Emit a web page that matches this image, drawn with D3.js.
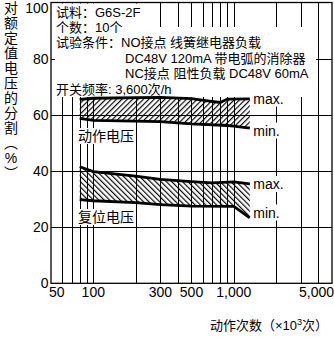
<!DOCTYPE html>
<html><head><meta charset="utf-8">
<script src="https://cdn.jsdelivr.net/npm/d3@7/dist/d3.min.js"></script>
<style>html,body{margin:0;padding:0;background:#fff;} svg{display:block;}</style>
</head><body>
<svg id="c" width="334" height="338"></svg>
<script>
// ---------- data ----------
const xTickValues = [50, 100, 300, 500, 1000, 5000];
const xTickLabels = ["50", "100", "300", "500", "1,000", "5,000"];
const xGridValues = [60, 70, 80, 90, 100, 200, 300, 400, 500, 600, 700, 800, 900, 1000, 2000, 3000, 4000];
const yTickValues = [0, 20, 40, 60, 80, 100];
const yGridValues = [20, 40, 60, 80];

// operating voltage (动作电压)
const opMaxCounts = [80, 100, 300, 500, 650, 800, 900, 1300];
const opMaxValues = [65.5, 65.9, 66.2, 65.8, 65.0, 64.4, 65.6, 65.7];
const opMinCounts = [80, 100, 300, 500, 900, 1000, 1300];
const opMinValues = [58.7, 58.0, 57.6, 56.8, 56.2, 56.0, 55.3];

// reset voltage (复位电压)
const rsMaxCounts = [80, 100, 200, 300, 500, 700, 1000, 1300];
const rsMaxValues = [41.5, 39.8, 38.2, 37.0, 36.2, 35.8, 36.1, 35.4];
const rsMinCounts = [80, 100, 200, 300, 500, 1000, 1300];
const rsMinValues = [29.8, 29.4, 28.7, 28.0, 27.5, 27.4, 23.3];

const noteLines = [
  "试料：G6S-2F",
  "个数：10个",
  "试验条件：NO接点 线簧继电器负载",
  "DC48V 120mA 带电弧的消除器",
  "NC接点 阻性负载 DC48V 60mA",
  "开关频率: 3,600次/h"
];
const yTitleChars = ["对","额","定","值","电","压","的","分","割","︵","%","︶"];

// ---------- layout ----------
const FONT = '"Liberation Sans", Arial, "Noto Sans CJK SC", sans-serif';
const L = 51, R = 332, T = 2.5, B = 283.3;
const x = d3.scaleLog().domain([50, 5000]).range([L, R]);
const y = d3.scaleLinear().domain([0, 100]).range([B, T]);

const svg = d3.select("#c").style("font-family", FONT);
svg.append("rect").attr("width", 334).attr("height", 338).attr("fill", "#fff");

const defs = svg.append("defs");
function hatch(id, angle) {
  const p = defs.append("pattern").attr("id", id).attr("patternUnits", "userSpaceOnUse")
    .attr("width", 3.8).attr("height", 3.8).attr("patternTransform", `rotate(${angle})`);
  p.append("line").attr("x1", 0.6).attr("y1", -1).attr("x2", 0.6).attr("y2", 5)
    .attr("stroke", "#000").attr("stroke-width", 1.15);
}
hatch("hOp", 45);
hatch("hRs", -45);

// grid
const g = svg.append("g").attr("stroke", "#000").attr("stroke-width", 1).attr("shape-rendering", "crispEdges");
g.selectAll("line.v").data(xGridValues).join("line")
  .attr("x1", d => Math.round(x(d)) + 0.5).attr("x2", d => Math.round(x(d)) + 0.5)
  .attr("y1", T).attr("y2", B);
g.selectAll("line.h").data(yGridValues).join("line")
  .attr("x1", L).attr("x2", R)
  .attr("y1", d => Math.round(y(d)) + 0.5).attr("y2", d => Math.round(y(d)) + 0.5);

// note background + text
svg.append("rect").attr("x", 55).attr("y", 3.5).attr("width", 93).attr("height", 24).attr("fill", "#fff");
svg.append("rect").attr("x", 55).attr("y", 27).attr("width", 261).attr("height", 70).attr("fill", "#fff");
const noteX = [56, 56, 56, 125, 125, 56];
const noteY = [16.5, 31.8, 47, 62.5, 78, 93.5];
svg.append("g").attr("font-size", 13).selectAll("text").data(noteLines).join("text")
  .attr("x", (d, i) => noteX[i]).attr("y", (d, i) => noteY[i]).text(d => d);

// bands
function band(maxC, maxV, minC, minV, pat) {
  const top = maxC.map((c, i) => [x(c), y(maxV[i])]);
  const bot = minC.map((c, i) => [x(c), y(minV[i])]).reverse();
  svg.append("path").attr("d", d3.line()(top.concat(bot)) + "Z")
    .attr("fill", `url(#${pat})`).attr("stroke", "none");
  const ln = d3.line().x(d => x(d[0])).y(d => y(d[1]));
  svg.append("path").attr("d", ln(maxC.map((c, i) => [c, maxV[i]])))
    .attr("fill", "none").attr("stroke", "#000").attr("stroke-width", 2.8);
  svg.append("path").attr("d", ln(minC.map((c, i) => [c, minV[i]])))
    .attr("fill", "none").attr("stroke", "#000").attr("stroke-width", 2.8);
}
band(opMaxCounts, opMaxValues, opMinCounts, opMinValues, "hOp");
band(rsMaxCounts, rsMaxValues, rsMinCounts, rsMinValues, "hRs");

// labels with white background
function label(txt, lx, ly, size) {
  const gg = svg.append("g");
  const r = gg.append("rect").attr("fill", "#fff");
  const t = gg.append("text").attr("x", lx).attr("y", ly).attr("font-size", size).text(txt);
  const b = t.node().getBBox();
  r.attr("x", b.x - 1).attr("y", b.y).attr("width", b.width + 2).attr("height", b.height);
}
const lblX = x(1300) + 3.5;
label("max.", lblX, 103.5, 14);
label("min.", lblX, 135.5, 14);
label("max.", lblX, 189, 14);
label("min.", lblX, 217.5, 14);
label("动作电压", 78, 141, 14);
label("复位电压", 78, 222, 14);

// frame
svg.append("rect").attr("x", L).attr("y", T).attr("width", R - L).attr("height", B - T)
  .attr("fill", "none").attr("stroke", "#000").attr("stroke-width", 1.3);

// y tick labels
svg.append("g").attr("font-size", 14).attr("text-anchor", "end")
  .selectAll("text").data(yTickValues).join("text")
  .attr("x", 48.5).attr("y", d => Math.max(y(d), 7.5)).attr("dy", "0.36em").text(d => d);

// x tick labels
svg.append("g").attr("font-size", 14)
  .selectAll("text").data(xTickValues).join("text")
  .attr("x", (d, i) => i === 0 ? L - 2 : (i === xTickValues.length - 1 ? 334 : x(d)))
  .attr("text-anchor", (d, i) => i === 0 ? "start" : (i === xTickValues.length - 1 ? "end" : "middle"))
  .attr("y", 297).text((d, i) => xTickLabels[i]);

// y title (vertical)
svg.append("g").attr("font-size", 14).attr("text-anchor", "middle")
  .selectAll("text").data(yTitleChars).join("text")
  .attr("x", 11).attr("y", (d, i) => 7.5 + i * 15).attr("dy", "0.36em").text(d => d);

// x title
const xt = svg.append("text").attr("x", 210).attr("y", 330).attr("font-size", 13);
xt.append("tspan").text("动作次数（×10");
xt.append("tspan").attr("dy", -5).attr("font-size", 9).text("3");
xt.append("tspan").attr("dy", 5).text("次）");
</script>
</body></html>
